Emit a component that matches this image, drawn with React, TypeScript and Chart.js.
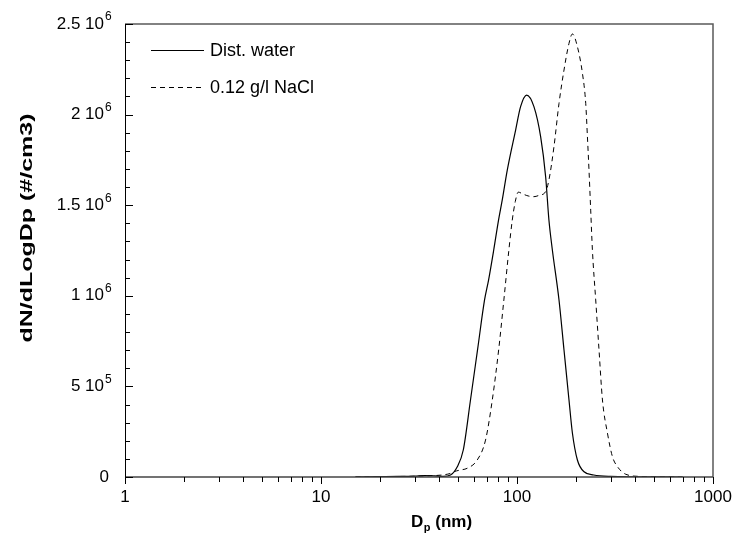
import React, { useEffect, useRef } from "react";
import { Chart, registerables } from "chart.js";

Chart.register(...registerables);

// ---- data (Dp in nm, dN/dLogDp in #/cm3) ----
const waterDp = [15, 20, 25, 30, 34, 38, 42, 45.8, 49.5, 53.2, 57.9, 63, 68.3, 71.6, 76, 80.5, 84.1, 89.2, 98.4, 104.3, 112, 122, 132, 140, 145.5, 151.5, 163.8, 173.7, 184.2, 191.7, 203.3, 219.8, 246.3, 300, 400, 500, 700];
const waterN = [0.001e6, 0.002e6, 0.003e6, 0.005e6, 0.008e6, 0.006e6, 0.004e6, 0.011e6, 0.055e6, 0.149e6, 0.425e6, 0.707e6, 0.977e6, 1.087e6, 1.25e6, 1.418e6, 1.529e6, 1.694e6, 1.915e6, 2.044e6, 2.108e6, 2.044e6, 1.878e6, 1.657e6, 1.418e6, 1.253e6, 0.977e6, 0.701e6, 0.425e6, 0.243e6, 0.094e6, 0.029e6, 0.011e6, 0.003e6, 0.001e6, 0.0005e6, 0];

const naclDp = [15, 20, 25, 30, 34, 38, 41.5, 45.8, 47.6, 51, 55.7, 62.7, 69.1, 74.8, 80.6, 85.7, 90.9, 94.6, 98, 101.5, 108, 115, 122, 130, 140, 145.5, 154.4, 163.8, 173.7, 184.2, 191.7, 203.3, 215.7, 224.2, 228.7, 233, 237.7, 242.5, 252.1, 262.1, 272.9, 289.3, 306.9, 325.5, 359, 428, 550, 700];
const naclN = [0.001e6, 0.002e6, 0.003e6, 0.004e6, 0.006e6, 0.008e6, 0.011e6, 0.02e6, 0.029e6, 0.038e6, 0.048e6, 0.094e6, 0.204e6, 0.425e6, 0.701e6, 0.977e6, 1.253e6, 1.418e6, 1.52e6, 1.572e6, 1.56e6, 1.55e6, 1.547e6, 1.555e6, 1.575e6, 1.639e6, 1.823e6, 2.062e6, 2.246e6, 2.393e6, 2.445e6, 2.375e6, 2.228e6, 2.062e6, 1.878e6, 1.694e6, 1.473e6, 1.253e6, 0.977e6, 0.701e6, 0.425e6, 0.243e6, 0.112e6, 0.057e6, 0.015e6, 0.003e6, 0.001e6, 0];

const seriesNames = ["Dist. water", "0.12 g/l NaCl"];

const xTickValues = [1, 10, 100, 1000];
const xTickLabels = ["1", "10", "100", "1000"];
const yTickValues = [0, 5e5, 1e6, 1.5e6, 2e6, 2.5e6];
const yTickMantissa = ["0", "5", "1", "1.5", "2", "2.5"];
const yTickExponent = ["", "5", "6", "6", "6", "6"];
const yMinorStep = 1e5;

const xTitleMain = "D";
const xTitleSub = "p";
const xTitleRest = " (nm)";
const yTitle = "dN/dLogDp (#/cm3)";

const FONT = '"Liberation Sans", Arial, Helvetica, sans-serif';

const customAxes = {
  id: "customAxes",
  afterDraw(chart: any) {
    const { ctx, chartArea: a, scales } = chart;
    const xs = scales.x;
    const ys = scales.y;
    ctx.save();

    // frame: top and right (gray), left and bottom axes
    ctx.lineWidth = 1.5;
    ctx.strokeStyle = "#5a5a5a";
    ctx.beginPath();
    ctx.moveTo(a.left, a.top);
    ctx.lineTo(a.right, a.top);
    ctx.lineTo(a.right, a.bottom);
    ctx.stroke();
    ctx.strokeStyle = "#444";
    ctx.beginPath();
    ctx.moveTo(a.left, a.bottom);
    ctx.lineTo(a.right, a.bottom);
    ctx.stroke();
    ctx.lineWidth = 1;
    ctx.strokeStyle = "#000";
    ctx.beginPath();
    ctx.moveTo(a.left + 0.5, a.top);
    ctx.lineTo(a.left + 0.5, a.bottom);
    ctx.stroke();

    // x ticks (outside, down)
    ctx.strokeStyle = "#000";
    ctx.lineWidth = 1;
    ctx.beginPath();
    for (let d = 0; d < xTickValues.length; d++) {
      const base = xTickValues[d];
      const px = Math.round(xs.getPixelForValue(base)) + 0.5;
      ctx.moveTo(px, a.bottom);
      ctx.lineTo(px, a.bottom + 7);
      if (d < xTickValues.length - 1) {
        for (let m = 2; m <= 9; m++) {
          const p = Math.round(xs.getPixelForValue(base * m)) + 0.5;
          ctx.moveTo(p, a.bottom);
          ctx.lineTo(p, a.bottom + 5);
        }
      }
    }
    ctx.stroke();

    // y ticks (inside, right)
    ctx.beginPath();
    const yMax = ys.max;
    for (let v = 0; v <= yMax + 1; v += yMinorStep) {
      const py = Math.round(ys.getPixelForValue(v)) + 0.5;
      const major = Math.abs(v / 5e5 - Math.round(v / 5e5)) < 1e-6;
      ctx.moveTo(a.left, py);
      ctx.lineTo(a.left + (major ? 8 : 5), py);
    }
    ctx.stroke();

    // x tick labels
    ctx.fillStyle = "#000";
    ctx.font = `17px ${FONT}`;
    ctx.textAlign = "center";
    ctx.textBaseline = "middle";
    xTickValues.forEach((v, i) => {
      ctx.fillText(xTickLabels[i], xs.getPixelForValue(v), a.bottom + 20);
    });

    // y tick labels
    yTickValues.forEach((v, i) => {
      const py = ys.getPixelForValue(v);
      ctx.textBaseline = "middle";
      if (yTickExponent[i] === "") {
        ctx.font = `17px ${FONT}`;
        ctx.textAlign = "right";
        ctx.fillText(yTickMantissa[i], a.left - 16, py);
      } else {
        ctx.font = `17px ${FONT}`;
        ctx.textAlign = "right";
        ctx.fillText(yTickMantissa[i] + " 10", a.left - 21, py);
        ctx.font = `12px ${FONT}`;
        ctx.textAlign = "left";
        ctx.fillText(yTickExponent[i], a.left - 20, py - 7);
      }
    });

    // x title
    ctx.textAlign = "left";
    ctx.textBaseline = "alphabetic";
    ctx.font = `bold 17px ${FONT}`;
    let tx = 411;
    const ty = a.bottom + 50;
    ctx.fillText(xTitleMain, tx, ty);
    tx += ctx.measureText(xTitleMain).width;
    ctx.font = `bold 11px ${FONT}`;
    ctx.fillText(xTitleSub, tx + 0.5, ty + 4);
    tx += ctx.measureText(xTitleSub).width + 0.5;
    ctx.font = `bold 17px ${FONT}`;
    ctx.fillText(xTitleRest, tx, ty);

    // y title (stretched along its length like the reference)
    ctx.save();
    ctx.font = `bold 17px ${FONT}`;
    const tw = ctx.measureText(yTitle).width;
    ctx.translate(27, 228);
    ctx.rotate(-Math.PI / 2);
    ctx.scale(229 / tw, 1);
    ctx.textAlign = "center";
    ctx.textBaseline = "middle";
    ctx.fillText(yTitle, 0, 0);
    ctx.restore();

    // legend
    ctx.font = `18px ${FONT}`;
    ctx.textAlign = "left";
    ctx.textBaseline = "middle";
    const legendY = [50, 87];
    const dashes = [[], [5, 4]];
    seriesNames.forEach((name, i) => {
      ctx.setLineDash(dashes[i]);
      ctx.strokeStyle = "#000";
      ctx.lineWidth = 1;
      ctx.beginPath();
      ctx.moveTo(151, legendY[i] + 0.5);
      ctx.lineTo(204, legendY[i] + 0.5);
      ctx.stroke();
      ctx.setLineDash([]);
      ctx.fillText(name, 210, legendY[i] + 1);
    });

    ctx.restore();
  },
};

export default function App() {
  const ref = useRef<HTMLCanvasElement | null>(null);

  useEffect(() => {
    if (!ref.current) return;
    const chart = new Chart(ref.current, {
      type: "line",
      data: {
        datasets: [
          {
            label: seriesNames[0],
            data: waterDp.map((d, i) => ({ x: d, y: waterN[i] })),
            borderColor: "#000",
            borderWidth: 1.2,
            pointRadius: 0,
            fill: false,
            cubicInterpolationMode: "monotone",
          },
          {
            label: seriesNames[1],
            data: naclDp.map((d, i) => ({ x: d, y: naclN[i] })),
            borderColor: "#000",
            borderWidth: 1,
            borderDash: [5, 4],
            pointRadius: 0,
            fill: false,
            cubicInterpolationMode: "monotone",
          },
        ],
      },
      options: {
        responsive: false,
        animation: false,
        layout: { padding: { left: 125, right: 21, top: 24, bottom: 60 } },
        plugins: { legend: { display: false }, tooltip: { enabled: false } },
        scales: {
          x: { type: "logarithmic", min: 1, max: 1000, display: false },
          y: { type: "linear", min: 0, max: 2.5e6, display: false },
        },
      },
      plugins: [customAxes],
    });
    return () => chart.destroy();
  }, []);

  return (
    <div style={{ position: "absolute", left: 0, top: 0, width: 734, height: 537, background: "#fff" }}>
      <canvas ref={ref} width={734} height={537} style={{ width: 734, height: 537 }} />
    </div>
  );
}
